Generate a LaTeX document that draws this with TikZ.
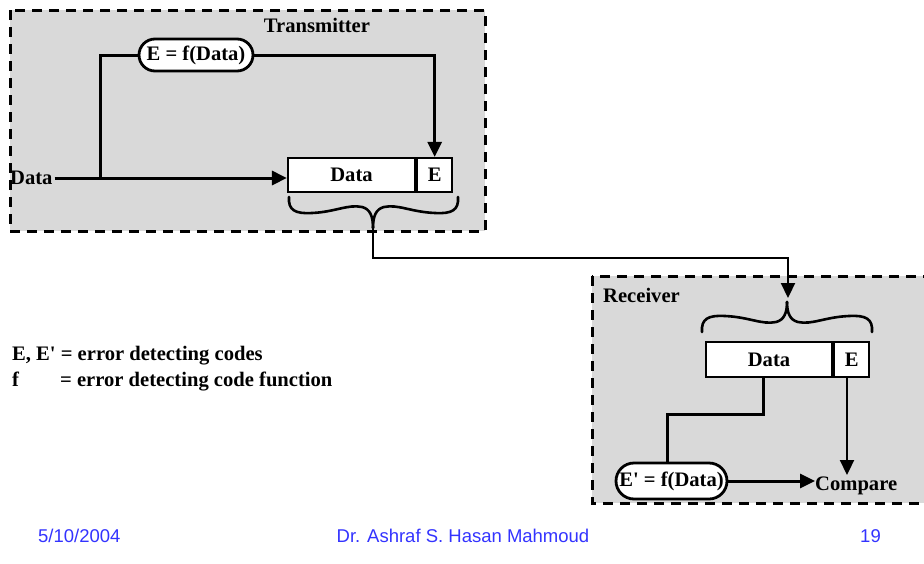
\documentclass[tikz,border=0pt]{standalone}
\usepackage{fontspec}
\setmainfont{Liberation Serif}
\newfontfamily\footfont{Liberation Sans}
\usetikzlibrary{arrows.meta,shapes.misc}
\definecolor{panelgrey}{RGB}{217,217,217}
\definecolor{footblue}{RGB}{51,51,255}
\tikzset{
  panel/.style={fill=panelgrey,draw=black,line width=3pt,dash pattern=on 10pt off 7pt},
  lbl/.style={font=\bfseries\fontsize{20.6}{24}\selectfont,inner sep=0pt},
  cell/.style={draw=black,fill=white,line width=2.2pt,inner sep=0pt,font=\bfseries\fontsize{20.6}{24}\selectfont},
  fbox/.style={rounded rectangle,draw=black,fill=white,line width=2.8pt,inner sep=0pt,font=\bfseries\fontsize{20.6}{24}\selectfont},
  thickline/.style={line width=3pt},
  thinline/.style={line width=2.2pt},
  tip/.style={-{Triangle[length=15pt,width=14pt]}},
  bracestyle/.style={line width=2.6pt,line cap=round},
  foot/.style={font=\footfont\fontsize{18.5}{22}\selectfont,text=footblue,inner sep=0pt}
}
\begin{document}
\begin{tikzpicture}[x=1pt,y=-1pt]
\useasboundingbox (0,0) rectangle (924,563);
% panels
\draw[panel] (10,10) rectangle (485,231);
\draw[panel] (592,276) rectangle (935,503);
\node[lbl] (txlabel) at (317,25) {Transmitter};
\node[lbl,anchor=west] (rxlabel) at (603,295) {Receiver};

% transmitter
\node[fbox,minimum width=114pt,minimum height=32pt] (Ef) at (196,55) {E = f(Data)};
\node[lbl,anchor=west] (datain) at (10,178) {Data};
\node[cell,minimum width=127pt,minimum height=34pt] (txdata) at (351.5,175) {Data};
\node[cell,minimum width=35pt,minimum height=34pt,anchor=west] (txE) at (txdata.east) {E};
\coordinate (branch) at (100,178);
\draw[thickline,tip] ([xshift=2pt]datain.east) -- (txdata.west |- datain.east);
\draw[thickline] (branch) |- (Ef.west);
\draw[thickline,tip] (Ef.east) -| (txE.north);

% transmitter brace
\coordinate (txtip) at (373,228);
\draw[bracestyle] (289,197) .. controls (288,210) and (295,214) .. (312,213)
  .. controls (335,212) and (348,204) .. (362,207)
  .. controls (370,209) and (373,216) .. (txtip);
\draw[bracestyle] (458,197) .. controls (459,210) and (452,214) .. (435,213)
  .. controls (411,212) and (398,204) .. (384,207)
  .. controls (376,209) and (373,216) .. (txtip);

% connector between panels
\coordinate (rxtip) at (788,298);
\draw[thinline,tip] (txtip) -- (373,258) -| (rxtip);

% receiver brace
\coordinate (rxbt) at (787,302);
\draw[bracestyle] (702,332) .. controls (701,319) and (708,315) .. (725,316)
  .. controls (749,317) and (762,325) .. (776,322)
  .. controls (784,320) and (787,313) .. (rxbt);
\draw[bracestyle] (872,332) .. controls (873,319) and (866,315) .. (849,316)
  .. controls (825,317) and (812,325) .. (798,322)
  .. controls (790,320) and (787,313) .. (rxbt);

% receiver
\node[cell,minimum width=126pt,minimum height=35pt] (rxdata) at (769,359.5) {Data};
\node[cell,minimum width=35pt,minimum height=35pt,anchor=west] (rxE) at (rxdata.east) {E};
\node[fbox,minimum width=111pt,minimum height=36pt] (Ep) at (671.5,481) {E\textquotesingle{} = f(Data)};
\node[lbl,anchor=west] (cmp) at (815,486) {Compare};
\coordinate (dtap) at (763,377);
\draw[thickline] (dtap) |- (667,414) -- (Ep.north -| 667,0);
\draw[thinline,tip] (rxE.south -| 847,0) -- (847,475);
\draw[thickline,tip] (Ep.east) -- (cmp.west |- Ep.east);

% legend
\node[lbl,anchor=base west] (leg1) at (12,360) {E, E\textquotesingle{} = error detecting codes};
\node[lbl,anchor=base west] (leg2) at (60,386) {= error detecting code function};
\node[lbl,anchor=base west] (leg2f) at (12,386) {f};

% footer
\node[foot,anchor=west] (date) at (38,536) {5/10/2004};
\node[foot] (author) at (463,536) {Dr. Ashraf S. Hasan Mahmoud};
\node[foot,anchor=east] (page) at (881,536) {19};
\end{tikzpicture}
\end{document}
